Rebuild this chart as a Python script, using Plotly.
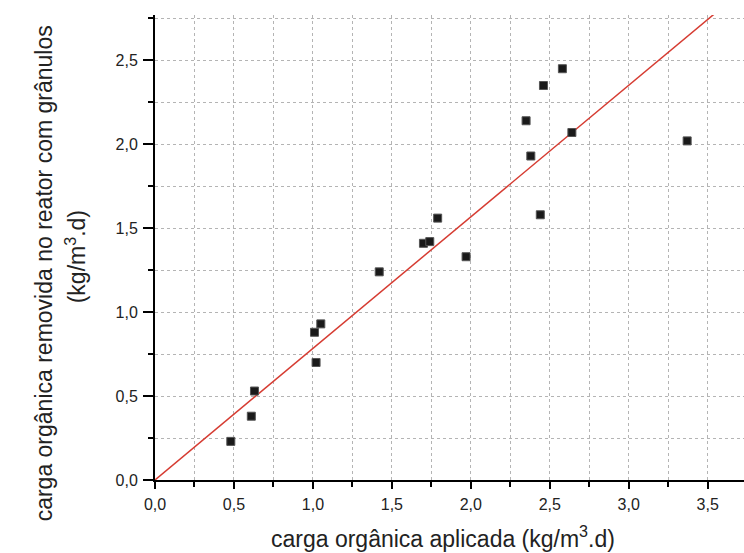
import plotly.graph_objects as go

carga_aplicada = [0.48, 0.61, 0.63, 1.01, 1.05, 1.02, 1.42, 1.70, 1.74, 1.79, 1.97,
                  2.35, 2.38, 2.46, 2.58, 2.64, 2.44, 3.37]
carga_removida = [0.23, 0.38, 0.53, 0.88, 0.93, 0.70, 1.24, 1.41, 1.42, 1.56, 1.33,
                  2.14, 1.93, 2.35, 2.45, 2.07, 1.58, 2.02]

linha_x = [0.0, 3.70]
linha_y = [0.0, 2.90]

tick_vals = [0.0, 0.5, 1.0, 1.5, 2.0, 2.5, 3.0, 3.5]
tick_text = ["0,0", "0,5", "1,0", "1,5", "2,0", "2,5", "3,0", "3,5"]

titulo_x = "carga orgânica aplicada (kg/m<sup>3</sup>.d)"
titulo_y1 = "carga orgânica removida no reator com grânulos"
titulo_y2 = "(kg/m<sup>3</sup>.d)"

fig = go.Figure()
fig.add_trace(go.Scatter(x=linha_x, y=linha_y, mode="lines",
                         line=dict(color="rgb(214,60,50)", width=1.5),
                         hoverinfo="skip", showlegend=False))
fig.add_trace(go.Scatter(x=carga_aplicada, y=carga_removida, mode="markers",
                         marker=dict(symbol="square", size=8, color="#1a1a1a",
                                     line=dict(color="#555", width=1)),
                         showlegend=False))

font = "Liberation Sans, Arial, sans-serif"


def eixo(ticklen):
    return dict(
        showline=True, linecolor="black", linewidth=2,
        ticks="outside", ticklen=ticklen, tickwidth=2, tickcolor="black",
        showgrid=True, gridcolor="#b4b4b4", griddash="dot", gridwidth=1,
        zeroline=False,
        tickfont=dict(family=font, size=16, color="#222"),
        minor=dict(dtick=0.25, ticks="outside", ticklen=5, tickwidth=2, tickcolor="black",
                   showgrid=True, gridcolor="#b4b4b4", griddash="dot", gridwidth=1),
    )


fig.update_layout(
    width=744, height=553,
    margin=dict(l=155, r=0, t=15, b=73),
    paper_bgcolor="white", plot_bgcolor="white",
    font=dict(family=font, color="#222"),
    xaxis=dict(range=[0, 3.73], tickvals=tick_vals, ticktext=tick_text,
               ticklabelstandoff=2, **eixo(7)),
    yaxis=dict(range=[0, 2.77], tickvals=tick_vals[:6], ticktext=tick_text[:6],
               ticklabelstandoff=2, **eixo(10)),
    annotations=[
        dict(text=titulo_x, xref="paper", yref="paper", x=0.489, y=-0.122,
             xanchor="center", yanchor="middle", showarrow=False,
             font=dict(family=font, size=23, color="#222")),
        dict(text=titulo_y1, xref="paper", yref="paper", x=-0.188, y=0.445,
             xanchor="center", yanchor="middle", showarrow=False, textangle=-90,
             font=dict(family=font, size=23, color="#222")),
        dict(text=titulo_y2, xref="paper", yref="paper", x=-0.135, y=0.48,
             xanchor="center", yanchor="middle", showarrow=False, textangle=-90,
             font=dict(family=font, size=23, color="#222")),
    ],
)

fig.write_html("out.html")
